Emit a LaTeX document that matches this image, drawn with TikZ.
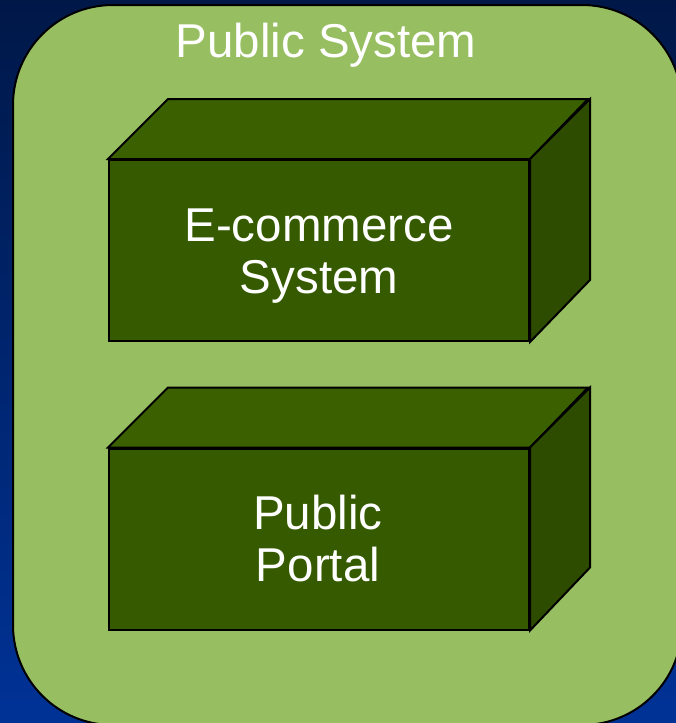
\documentclass[tikz,border=0pt]{standalone}
\usepackage{fontspec}
\setmainfont{Liberation Sans}
\definecolor{navytop}{RGB}{0,24,72}
\definecolor{navybot}{RGB}{0,50,150}
\definecolor{paleolive}{RGB}{151,190,96}
\definecolor{facefront}{RGB}{54,90,0}
\definecolor{facetop}{RGB}{58,96,0}
\definecolor{faceside}{RGB}{45,76,0}
\tikzset{
  frontface/.style={draw=black, line width=2pt, fill=facefront,
    minimum width=420pt, minimum height=181pt, inner sep=0pt},
  boxtext/.style={text=white, align=center, inner sep=0pt,
    font=\fontsize{47.5}{52}\selectfont},
  topface/.style={draw=black, line width=2pt, fill=facetop, line join=miter},
  sideface/.style={draw=black, line width=2pt, fill=faceside, line join=miter},
  container/.style={draw=black, line width=2pt, fill=paleolive, rounded corners=100pt},
  heading/.style={text=white, font=\fontsize{47.5}{52}\selectfont, inner sep=0pt}
}
\begin{document}
\begin{tikzpicture}[x=1pt,y=-1pt]
\useasboundingbox (0,0) rectangle (676,723);
\clip (0,0) rectangle (676,723);
% backdrop
\shade[top color=navytop, bottom color=navybot] (0,0) rectangle (676,723);
% outer system boundary
\draw[container] (13,5) rectangle (682,725);
\node[heading] (title) at (326,45) {Public System};
% upper component
\node[frontface] (ecom) at (319,250.5) {};
\draw[topface] (ecom.north west) -- ++(60,-60) -- ++(420,0) -- (ecom.north east) -- cycle;
\draw[sideface] (ecom.north east) -- ++(60,-60) -- ++(0,181) -- (ecom.south east) -- cycle;
\node[boxtext] (ecomtext) at (319,256) {E-commerce\\System};
% lower component
\node[frontface] (portal) at (319,539) {};
\draw[topface] (portal.north west) -- ++(60,-60) -- ++(420,0) -- (portal.north east) -- cycle;
\draw[sideface] (portal.north east) -- ++(60,-60) -- ++(0,180) -- (portal.south east) -- cycle;
\node[boxtext] (portaltext) at (318,539) {Public\\Portal};
\end{tikzpicture}
\end{document}
